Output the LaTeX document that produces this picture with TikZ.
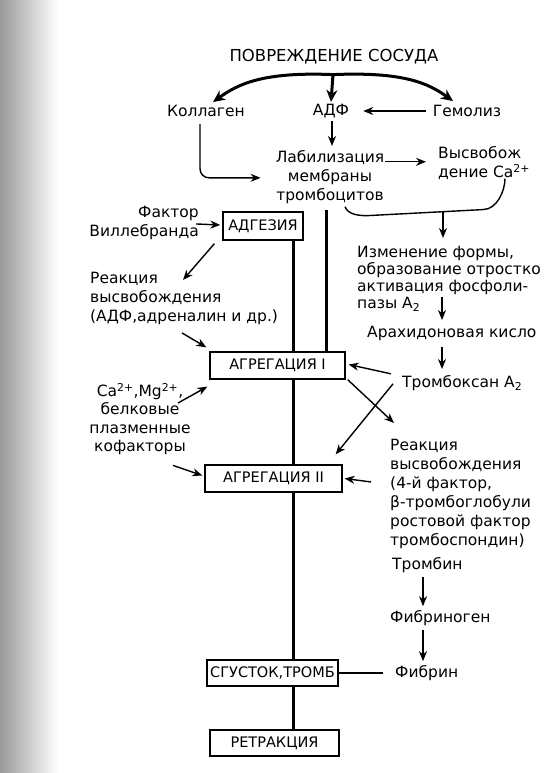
\documentclass[tikz,border=0pt]{standalone}
\usepackage{fontspec}
\setmainfont{DejaVu Sans}
\usetikzlibrary{arrows.meta,calc}
\tikzset{
  txt/.style={font=\fontsize{15.5}{19}\selectfont, inner sep=0pt},
  boxn/.style={draw, line width=1.3pt, font=\fontsize{14.5}{17}\selectfont, inner sep=0pt, minimum height=27pt},
  thinarr/.style={line width=1.4pt, -{Stealth[length=10pt,width=8pt]}},
  thinline/.style={line width=1.4pt},
  bigarr/.style={line width=3pt, -{Stealth[length=12pt,width=11pt]}},
  vline/.style={line width=3pt}
}
\begin{document}
\begin{tikzpicture}[x=1pt,y=-1pt]
\useasboundingbox (0,0) rectangle (544,773);
\shade[left color=black!40, right color=white] (0,0) rectangle (58,773);

% text nodes
\node[txt, font=\fontsize{16.5}{19}\selectfont] (title) at (334,57) {ПОВРЕЖДЕНИЕ СОСУДА};
\node[txt] (kol) at (206,111) {Коллаген};
\node[txt] (adf) at (331,111) {АДФ};
\node[txt] (gem) at (467,111) {Гемолиз};
\node[txt, anchor=north, align=center] (labil) at (330,150) {Лабилизация\\мембраны\\тромбоцитов};
\node[txt, anchor=north west, align=left] (vys) at (438,146) {Высвобож\\дение Ca\textsuperscript{2+}};
\node[txt, anchor=north east, align=right] (fak) at (199,206) {Фактор\\Виллебранда};
\node[txt, anchor=north west, align=left] (reak1) at (90,272) {Реакция\\высвобождения\\(АДФ,адреналин и др.)};
\node[txt, anchor=north, align=center, font=\fontsize{15.5}{18.5}\selectfont] (ca) at (140,383) {Ca\textsuperscript{2+},Mg\textsuperscript{2+},\\белковые\\плазменные\\кофакторы};
\node[txt, anchor=north west, align=left, font=\fontsize{15.5}{17}\selectfont] (izm) at (357,246) {Изменение формы,\\образование отростко\\активация фосфоли-\\пазы A\textsubscript{2}};
\node[txt, anchor=north west] (arah) at (367,326) {Арахидоновая кисло};
\node[txt, anchor=north west] (trb) at (402,375) {Тромбоксан A\textsubscript{2}};
\node[txt, anchor=north west, align=left] (reak2) at (390,439) {Реакция\\высвобождения\\(4-й фактор,\\β-тромбоглобули\\ростовой фактор\\тромбоспондин)};
\node[txt, anchor=west] (trombin) at (392,565) {Тромбин};
\node[txt, anchor=west] (fibg) at (390,618) {Фибриноген};
\node[txt, anchor=west] (fib) at (395,673) {Фибрин};

% boxes
\node[boxn, minimum width=80pt, minimum height=28pt] (adg) at (263,226) {АДГЕЗИЯ};
\node[boxn, minimum width=135pt] (agr1) at (277.5,365.5) {АГРЕГАЦИЯ I};
\node[boxn, minimum width=137pt] (agr2) at (273.5,478.5) {АГРЕГАЦИЯ II};
\node[boxn, minimum width=131pt, minimum height=26pt] (sgu) at (272.5,673) {СГУСТОК,ТРОМБ};
\node[boxn, minimum width=129pt, minimum height=26pt] (retr) at (274.5,743) {РЕТРАКЦИЯ};

% vertical axis lines
\coordinate (vx) at (293,0);
\coordinate (vy) at (326,0);
\draw[vline] (adg.south -| vx) -- (agr1.north -| vx);
\draw[vline] ($(labil.south -| vy)+(0,6)$) -- (agr1.north -| vy);
\draw[vline] (agr1.south -| vx) -- (agr2.north -| vx);
\draw[vline] (agr2.south -| vx) -- (sgu.north -| vx);
\draw[vline] (sgu.south -| vx) -- (retr.north -| vx);

% top arcs
\coordinate (tp) at ($(title.south)+(-1,10)$);
\draw[bigarr] (tp) .. controls +(-70,-3) and +(25,-18) .. ($(kol.north)+(7,-3)$);
\draw[bigarr] (tp) .. controls +(70,-3) and +(-25,-18) .. ($(gem.north)+(-14,-4)$);
\draw[bigarr] (tp) -- ($(adf.north)+(0,-2)$);

\draw[thinarr] ($(gem.west)+(-7,0)$) -- ($(adf.east)+(14,0)$);
\draw[thinarr] ($(adf.south)+(1,3)$) -- ($(labil.north)+(2,-4)$);
\draw[thinarr, rounded corners=9pt] ($(kol.south)+(-6,7)$) |- ($(labil.west)+(-15,1)$);
\draw[thinarr] ($(labil.east |- vys.west)+(1,-1)$) -- ($(vys.west)+(-12,-1)$);

% brace from membrane / Ca release
\coordinate (br1) at ($(labil.south)+(15,3)$);
\coordinate (br2) at ($(vys.south west)+(67,-1)$);
\coordinate (bm) at ($(izm.north west)+(86,-34)$);
\draw[thinline] (br1) .. controls +(3,8) and +(-8,0) .. ($(br1)+(22,9)$) -- ($(br2)+(-22,31)$) .. controls +(14,0) and +(0,12) .. (br2);
\draw[thinarr] (bm) -- ($(izm.north west)+(86,-8)$);

\draw[thinarr] ($(izm.north west)+(85,51)$) -- ($(arah.north west)+(75,-6)$);
\draw[thinarr] ($(arah.south west)+(75,6)$) -- ($(trb.north west)+(40,-6)$);

% around thromboxane
\draw[thinarr] ($(trb.west)+(-11,-9)$) -- ($(agr1.east)+(3,-1)$);
\draw[thinarr] ($(agr1.south east)+(2,0)$) -- ($(reak2.north west)+(4,-16)$);
\draw[thinarr] ($(trb.west)+(-9,1)$) -- ($(agr2.north east)+(-7,-10)$);
\draw[thinarr] ($(reak2.west)+(-19,-12)$) -- ($(agr2.east)+(2,0)$);

% fibrin chain
\draw[thinarr] ($(trombin.south west)+(31,4)$) -- ($(fibg.north west)+(33,-4)$);
\draw[thinarr] ($(fibg.south west)+(33,4)$) -- ($(fib.north west)+(28,-4)$);
\draw[thinline] (sgu.east) -- ($(fib.west)+(-12,0)$);

% left inputs
\draw[thinarr] ($(fak.east)+(-3,1)$) -- ($(adg.west)+(-2,-1)$);
\draw[thinarr] ($(adg.south west)+(-8,3)$) -- ($(reak1.north west)+(93,8)$);
\draw[thinarr] ($(reak1.south west)+(92,8)$) -- ($(agr1.north west)+(-3,-4)$);
\draw[thinarr] ($(ca.north)+(38,20)$) -- ($(agr1.south west)+(-2,7)$);
\draw[thinarr] ($(ca.south)+(33,10)$) -- ($(agr2.west)+(-2,-3)$);
\end{tikzpicture}
\end{document}
